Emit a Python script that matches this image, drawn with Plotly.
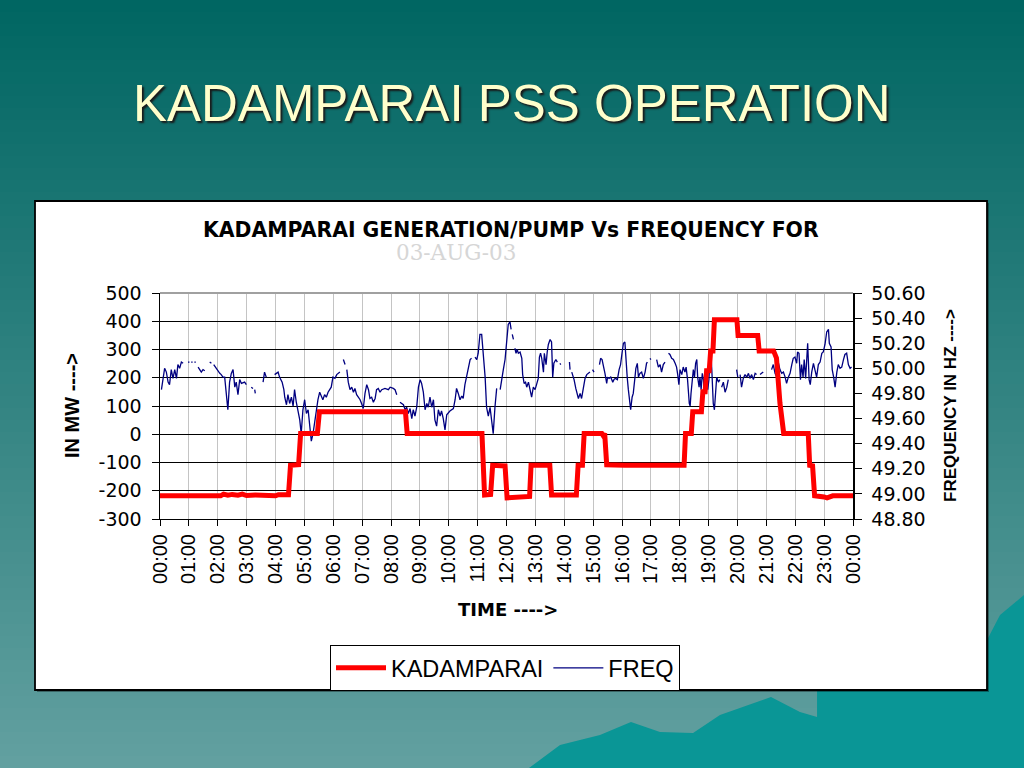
import plotly.graph_objects as go

# ---------------- data ----------------
HOUR_TICKS = list(range(0, 25))
HOUR_LABELS = ["00:00", "01:00", "02:00", "03:00", "04:00", "05:00", "06:00", "07:00",
               "08:00", "09:00", "10:00", "11:00", "12:00", "13:00", "14:00", "15:00",
               "16:00", "17:00", "18:00", "19:00", "20:00", "21:00", "22:00", "23:00", "00:00"]

MW_TICKS = [-300, -200, -100, 0, 100, 200, 300, 400, 500]
MW_LABELS = ["-300", "-200", "-100", "0", "100", "200", "300", "400", "500"]
HZ_TICKS = [48.80, 49.00, 49.20, 49.40, 49.60, 49.80, 50.00, 50.20, 50.40, 50.60]

# KADAMPARAI generation (+) / pump (-) in MW : (hour, MW)
KADAMPARAI_MW = [
    (0.00, -218), (2.10, -218), (2.20, -212), (2.35, -216), (2.50, -213), (2.70, -216),
    (2.85, -212), (3.00, -217), (3.30, -215), (3.60, -217), (4.00, -218), (4.10, -214),
    (4.45, -214), (4.52, -110), (4.80, -108), (4.87, 3), (5.45, 3), (5.52, 80),
    (8.50, 80), (8.56, 3), (11.15, 3), (11.24, -215), (11.45, -213), (11.52, -110),
    (11.95, -112), (12.02, -225), (12.50, -223), (12.80, -220), (12.85, -110), (13.50, -110),
    (13.56, -215), (14.42, -215), (14.48, -110), (14.63, -110), (14.69, 3), (15.30, 3),
    (15.35, -5), (15.40, 3), (15.47, -108), (16.00, -112), (16.10, -110), (18.15, -110),
    (18.20, 3), (18.40, 3), (18.45, 80), (18.75, 80), (18.80, 150), (18.88, 150),
    (18.93, 225), (19.02, 225), (19.07, 295), (19.15, 295), (19.20, 405), (19.98, 405),
    (20.02, 350), (20.70, 350), (20.75, 295), (21.25, 295), (21.35, 270), (21.47, 110),
    (21.60, 3), (22.45, 3), (22.50, -110), (22.60, -112), (22.67, -218), (23.00, -222),
    (23.10, -225), (23.30, -218), (24.00, -218),
]

# Grid frequency in Hz : (hour, Hz); None marks a gap in the record
FREQ_HZ = [
    (0.05, 49.83), (0.10, 49.92), (0.16, 50.00), (0.22, 49.97), (0.28, 49.89), (0.33, 49.87),
    (0.39, 49.99), (0.45, 49.92), (0.51, 49.99), (0.57, 49.92), (0.62, 50.03), (0.68, 50.00),
    (0.74, 50.05), (0.80, 50.04), None,
    (0.97, 50.05), (1.02, 50.05), None, (1.08, 50.05), (1.13, 50.05), None,
    (1.19, 50.05), (1.24, 50.05), None,
    (1.32, 50.01), (1.38, 49.99), (1.43, 49.97), (1.49, 49.99), (1.55, 49.98), None,
    (1.72, 50.05), (1.78, 50.04), None,
    (1.86, 50.03), (1.95, 50.00), (2.01, 49.97), (2.07, 49.96), (2.12, 49.95), (2.18, 49.93),
    (2.24, 49.93), (2.30, 49.80), (2.35, 49.67), (2.41, 49.89), (2.47, 49.96), (2.53, 49.99),
    (2.59, 49.85), (2.64, 49.89), (2.70, 49.79), (2.76, 49.91), (2.82, 49.88), (2.93, 49.89),
    (2.99, 49.87), None,
    (3.16, 49.85), (3.22, 49.84), None, (3.28, 49.83), (3.30, 49.80), None,
    (3.57, 49.89), (3.62, 49.97), (3.68, 49.93), None,
    (3.97, 49.95), (4.09, 49.97), (4.14, 49.93), (4.23, 49.89), (4.29, 49.83), (4.32, 49.77),
    (4.38, 49.71), (4.43, 49.79), (4.49, 49.72), (4.55, 49.77), (4.61, 49.70), (4.66, 49.83),
    (4.72, 49.73), (4.78, 49.67), (4.84, 49.59), (4.89, 49.48), (4.95, 49.67), (5.01, 49.75),
    (5.07, 49.64), (5.13, 49.67), (5.18, 49.54), (5.24, 49.42), (5.30, 49.48), (5.36, 49.59),
    (5.41, 49.67), (5.47, 49.75), (5.53, 49.81), (5.59, 49.77), (5.64, 49.75), (5.70, 49.79),
    (5.76, 49.77), (5.82, 49.81), (5.88, 49.83), (5.93, 49.85), (5.99, 49.93), (6.06, 49.92),
    (6.12, 49.95), (6.18, 49.96), (6.23, 49.97), None,
    (6.35, 50.07), (6.41, 50.03), None,
    (6.47, 49.99), (6.52, 49.89), (6.58, 49.83), (6.64, 49.85), (6.70, 49.81), (6.75, 49.84),
    (6.81, 49.79), (6.87, 49.77), (6.93, 49.75), (6.98, 49.72), (7.04, 49.68), (7.10, 49.80),
    (7.16, 49.87), (7.22, 49.83), (7.27, 49.76), (7.33, 49.77), (7.39, 49.73), (7.45, 49.76),
    (7.50, 49.83), (7.56, 49.84), (7.62, 49.81), (7.68, 49.83), (7.79, 49.84), (7.91, 49.83),
    (7.97, 49.85), (8.08, 49.84), (8.14, 49.83), (8.20, 49.79), None,
    (8.31, 49.73), (8.43, 49.71), (8.49, 49.67), (8.54, 49.69), (8.60, 49.64), (8.66, 49.68),
    (8.72, 49.60), (8.77, 49.67), (8.83, 49.62), (8.89, 49.69), (8.95, 49.85), (9.01, 49.91),
    (9.06, 49.88), (9.12, 49.81), (9.18, 49.67), (9.24, 49.72), (9.29, 49.69), (9.35, 49.77),
    (9.41, 49.69), (9.47, 49.75), (9.52, 49.59), (9.58, 49.54), (9.64, 49.67), (9.70, 49.62),
    (9.75, 49.66), (9.81, 49.60), (9.87, 49.51), (9.93, 49.63), (10.04, 49.66), (10.16, 49.68),
    (10.22, 49.75), (10.27, 49.84), (10.33, 49.80), (10.39, 49.75), (10.45, 49.78), (10.50, 49.76),
    (10.56, 49.87), (10.62, 49.93), (10.68, 49.99), (10.74, 50.07), (10.79, 50.08), None,
    (10.91, 50.09), (10.97, 50.07), (11.02, 50.12), (11.08, 50.27), (11.14, 50.27), (11.20, 50.12),
    (11.26, 49.93), (11.31, 49.69), (11.37, 49.62), (11.43, 49.69), (11.49, 49.56), (11.54, 49.48),
    (11.60, 49.69), (11.66, 49.84), None,
    (11.78, 49.83), (11.83, 49.89), (11.89, 49.99), (11.95, 50.07), (12.01, 50.23), (12.06, 50.35),
    (12.12, 50.37), (12.16, 50.31), None, (12.20, 50.27), (12.24, 50.23), None,
    (12.29, 50.16), (12.33, 50.12), (12.37, 50.15), (12.41, 50.12), (12.47, 50.13), (12.53, 50.08),
    (12.56, 49.95), (12.61, 49.88), (12.66, 49.89), (12.70, 49.85), (12.76, 49.89), (12.81, 49.83),
    (12.87, 49.77), (12.93, 49.85), (12.99, 49.83), (13.04, 49.87), (13.10, 49.92), (13.14, 50.09),
    (13.18, 50.12), (13.22, 50.08), (13.28, 49.97), (13.31, 50.12), (13.37, 50.03), (13.41, 50.13),
    (13.45, 50.19), (13.51, 50.23), (13.56, 50.21), (13.60, 49.93), (13.64, 50.04), (13.71, 50.07),
    (13.76, 50.05), None,
    (13.85, 50.04), (13.88, 50.03), None,
    (14.18, 50.05), (14.20, 49.99), None,
    (14.26, 49.97), (14.34, 49.91), (14.40, 49.84), (14.43, 49.81), (14.49, 49.76), (14.55, 49.80),
    (14.60, 49.76), (14.66, 49.84), (14.72, 49.92), (14.78, 49.95), (14.83, 49.96), (14.89, 49.97), None,
    (14.98, 49.99), (15.03, 49.97), None,
    (15.22, 50.03), (15.26, 50.08), (15.31, 50.07), (15.35, 50.03), (15.41, 49.96), (15.47, 49.88),
    (15.50, 49.93), (15.55, 49.92), (15.61, 49.93), (15.68, 49.89), (15.72, 49.91), (15.77, 49.92),
    (15.84, 49.91), (15.90, 49.99), (15.95, 50.03), (16.00, 50.12), (16.05, 50.20), (16.10, 50.21),
    (16.14, 50.04), (16.18, 49.93), (16.22, 49.83), (16.25, 49.75), (16.30, 49.67), (16.35, 49.77),
    (16.39, 49.80), (16.45, 49.93), (16.48, 50.00), (16.53, 50.04), (16.57, 49.93), (16.62, 49.96),
    (16.68, 49.97), (16.74, 49.92), (16.80, 49.97), (16.85, 50.04), (16.88, 50.05), None,
    (16.97, 50.08), (17.00, 50.07), None,
    (17.20, 50.07), (17.26, 50.01), (17.32, 50.03), (17.37, 49.97), (17.43, 50.03), (17.49, 50.05), None,
    (17.61, 50.12), (17.66, 50.11), (17.72, 50.08), (17.78, 50.07), (17.84, 50.04), (17.89, 50.01),
    (17.93, 49.95), (17.97, 49.87), (18.01, 49.99), (18.07, 49.95), (18.12, 50.01), (18.18, 49.97),
    (18.22, 50.01), (18.27, 49.91), (18.33, 49.72), (18.36, 49.70), (18.39, 49.80), (18.44, 49.96),
    (18.47, 49.99), (18.51, 49.93), (18.55, 50.04), (18.59, 50.07), (18.62, 49.93), (18.67, 49.85),
    (18.70, 49.93), (18.74, 49.83), (18.78, 49.96), (18.82, 49.91), (18.85, 49.81), (18.90, 49.87),
    (18.93, 49.96), (18.97, 49.83), (19.01, 49.91), (19.05, 50.09), (19.08, 50.11), (19.11, 49.99),
    (19.14, 49.83), (19.16, 49.72), (19.20, 49.67), (19.24, 49.77), (19.28, 49.93), (19.31, 49.91),
    (19.34, 49.89), (19.39, 49.91), None,
    (19.45, 49.85), (19.51, 49.89), (19.57, 49.81), (19.63, 49.85), (19.68, 49.91), None,
    (19.97, 49.99), (20.01, 49.93), None,
    (20.09, 49.95), (20.14, 49.85), (20.20, 49.92), (20.26, 49.95), (20.32, 49.93), (20.38, 49.96),
    (20.43, 49.92), (20.49, 49.95), (20.55, 49.91), (20.61, 49.96), (20.66, 49.95), None,
    (20.78, 49.95), (20.84, 49.96), (20.89, 49.97), None,
    (21.18, 49.99), (21.24, 50.03), (21.30, 49.96), (21.36, 49.93), (21.41, 50.05), (21.47, 49.99),
    (21.53, 49.96), (21.59, 49.97), (21.65, 49.93), (21.70, 49.88), (21.76, 49.93), (21.82, 49.96),
    (21.88, 50.03), (21.93, 50.08), (21.99, 50.09), (22.05, 50.04), (22.08, 50.13), (22.13, 50.12),
    (22.18, 49.91), (22.22, 50.03), (22.27, 49.93), (22.31, 50.07), (22.36, 49.92), (22.43, 50.20),
    (22.48, 49.91), (22.52, 49.87), (22.57, 49.97), (22.63, 50.04), (22.68, 49.99), (22.74, 49.93),
    (22.80, 50.03), (22.86, 50.05), (22.92, 50.12), (22.97, 50.13), (23.03, 50.19), (23.09, 50.29),
    (23.15, 50.31), (23.18, 50.20), (23.24, 50.17), (23.28, 49.99), (23.33, 49.93), (23.38, 49.85),
    (23.44, 49.97), (23.49, 50.03), (23.55, 50.00), (23.61, 50.01), (23.67, 50.07), (23.72, 50.11),
    (23.78, 50.12), (23.84, 50.03), (23.90, 50.00), (23.95, 50.01),
]

# ---------------- helpers ----------------
W, H = 1024, 768


def px(x):
    return x / W


def py(y):
    return 1 - y / H


kad_t = [p[0] for p in KADAMPARAI_MW]
kad_v = [p[1] for p in KADAMPARAI_MW]
fq_t, fq_v = [], []
for p in FREQ_HZ:
    if p is None:
        fq_t.append(None)
        fq_v.append(None)
    else:
        fq_t.append(p[0])
        fq_v.append(p[1])

fig = go.Figure()

fig.add_trace(go.Scatter(
    x=fq_t, y=fq_v, name="FREQ", mode="lines", yaxis="y", connectgaps=False,
    line=dict(color="#000080", width=1.3), legendrank=2, hoverinfo="skip",
))
fig.add_trace(go.Scatter(
    x=kad_t, y=kad_v, name="KADAMPARAI", mode="lines", yaxis="y2",
    line=dict(color="#FF0000", width=5), legendrank=1, hoverinfo="skip",
))

# ---------------- background (slide gradient, decoration, chart box) ----------------
shapes = []
NB = 64
top = (0, 102, 98)
bot = (98, 160, 160)
for i in range(NB):
    f = i / (NB - 1)
    c = tuple(int(round(top[k] + (bot[k] - top[k]) * f)) for k in range(3))
    shapes.append(dict(type="rect", xref="paper", yref="paper", layer="below",
                       x0=0, x1=1, y0=1 - (i + 1) / NB - 0.002, y1=1 - i / NB,
                       fillcolor="rgb(%d,%d,%d)" % c, line=dict(width=0)))

mountain = [(529, 768), (560, 745), (600, 735), (631, 722), (660, 732), (693, 733),
            (720, 715), (771, 697), (800, 712), (817, 717), (817, 690), (987, 690),
            (987, 640), (1000, 615), (1024, 595), (1024, 768)]
path = "M " + " L ".join("%.4f %.4f" % (px(a), py(b)) for a, b in mountain) + " Z"
shapes.append(dict(type="path", xref="paper", yref="paper", layer="below", path=path,
                   fillcolor="rgb(10,150,150)", line=dict(width=0)))

# white chart box (with a faint dark edge)
shapes.append(dict(type="rect", xref="paper", yref="paper", layer="below",
                   x0=px(37), x1=px(989), y0=py(692), y1=py(203),
                   fillcolor="rgba(0,0,0,0.35)", line=dict(width=0)))
shapes.append(dict(type="rect", xref="paper", yref="paper", layer="below",
                   x0=px(35), x1=px(987), y0=py(690), y1=py(201),
                   fillcolor="white", line=dict(color="black", width=1.8)))
# grey top border of plot area
shapes.append(dict(type="line", xref="x domain", yref="y domain",
                   x0=0, x1=1, y0=1, y1=1, line=dict(color="#a0a0a0", width=2)))

annotations = [
    dict(text="KADAMPARAI PSS OPERATION", x=px(512), y=py(103), xref="paper", yref="paper",
         showarrow=False, xanchor="center", yanchor="middle",
         font=dict(family="Liberation Sans, Arial, sans-serif", size=51, color="#FFFFCC",
                   shadow="2px 2px 2px #1a1a1a")),
    dict(text="<b>KADAMPARAI GENERATION/PUMP Vs FREQUENCY FOR</b>", x=px(511), y=py(230),
         xref="paper", yref="paper", showarrow=False, xanchor="center", yanchor="middle",
         font=dict(family="DejaVu Sans, sans-serif", size=20.4, color="black")),
    dict(text="03-AUG-03", x=px(456), y=py(252), xref="paper", yref="paper",
         showarrow=False, xanchor="center", yanchor="middle",
         font=dict(family="DejaVu Serif, Liberation Serif, serif", size=21.5, color="#d6d6d6")),
    dict(text="<b>IN MW ----></b>", x=px(72), y=py(406), xref="paper", yref="paper",
         showarrow=False, xanchor="center", yanchor="middle", textangle=-90,
         font=dict(family="Liberation Sans, Arial, sans-serif", size=20, color="black")),
    dict(text="<b>FREQUENCY IN HZ ----></b>", x=px(950), y=py(406), xref="paper", yref="paper",
         showarrow=False, xanchor="center", yanchor="middle", textangle=-90,
         font=dict(family="Liberation Sans Narrow, Liberation Sans, Arial, sans-serif",
                   size=17, color="black")),
    dict(text="<b>TIME ----></b>", x=px(508), y=py(609), xref="paper", yref="paper",
         showarrow=False, xanchor="center", yanchor="middle",
         font=dict(family="DejaVu Sans, sans-serif", size=18, color="black")),
]

fig.update_layout(
    template="none",
    width=W, height=H, autosize=False,
    margin=dict(l=0, r=0, t=0, b=0, pad=0, autoexpand=False),
    paper_bgcolor="rgb(0,102,98)", plot_bgcolor="rgba(0,0,0,0)",
    shapes=shapes, annotations=annotations,
    showlegend=True,
    legend=dict(orientation="h", x=px(330), xanchor="left", y=py(645), yanchor="top",
                bgcolor="white", bordercolor="black", borderwidth=1,
                font=dict(family="Liberation Sans, Arial, sans-serif", size=23.5, color="black"),
                traceorder="normal", itemwidth=50),
    xaxis=dict(domain=[px(160), px(853)], range=[0, 24], tickmode="array",
               tickvals=HOUR_TICKS, ticktext=HOUR_LABELS, tickangle=-90,
               ticks="outside", ticklen=6, tickcolor="black", automargin=False,
               showline=True, linecolor="black", linewidth=1,
               showgrid=True, gridcolor="#c4c4c4", gridwidth=1, zeroline=False,
               tickfont=dict(family="Liberation Sans, Arial, sans-serif", size=20, color="black"),
               fixedrange=True),
    yaxis=dict(domain=[1 - 519 / H, 1 - 293 / H], range=[48.8, 50.6], side="right",
               tickmode="array", tickvals=HZ_TICKS, tickformat=".2f", automargin=False,
               ticks="outside", ticklen=7, tickcolor="black",
               showline=True, linecolor="black", linewidth=1.5,
               showgrid=False, zeroline=False, ticklabelstandoff=6,
               tickfont=dict(family="DejaVu Sans, sans-serif", size=19, color="black"),
               fixedrange=True),
    yaxis2=dict(range=[-300, 500], overlaying="y", side="left", anchor="x",
                tickmode="array", tickvals=MW_TICKS, ticktext=MW_LABELS, automargin=False,
                ticks="outside", ticklen=7, tickcolor="black",
                showline=True, linecolor="black", linewidth=1.5,
                showgrid=True, gridcolor="black", gridwidth=1, zeroline=False,
                ticklabelstandoff=6,
                tickfont=dict(family="DejaVu Sans, sans-serif", size=19, color="black"),
                fixedrange=True),
    # inner half of the crossing tick marks on the frequency axis
    yaxis3=dict(range=[48.8, 50.6], overlaying="y", side="right", anchor="x",
                tickmode="array", tickvals=HZ_TICKS, ticks="inside", ticklen=7,
                tickcolor="black", showticklabels=False, showline=False,
                showgrid=False, zeroline=False, automargin=False, fixedrange=True),
)

fig.write_html(
    "out.html",
    config={"displayModeBar": False, "staticPlot": True},
    post_script="document.documentElement.style.margin='0';document.body.style.margin='0';"
                "document.body.style.padding='0';document.body.style.overflow='hidden';"
                "document.documentElement.style.overflow='hidden';",
)
